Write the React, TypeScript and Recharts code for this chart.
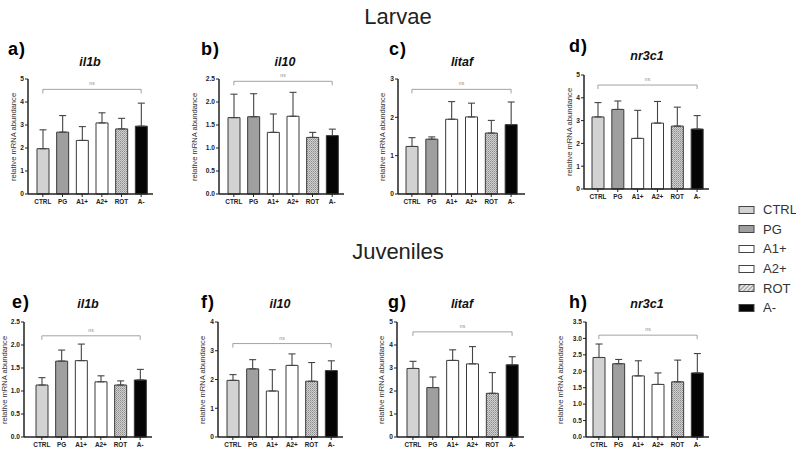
import { BarChart, Bar, XAxis, YAxis, ErrorBar, Cell, ReferenceLine } from "recharts";

const groups = ["CTRL", "PG", "A1+", "A2+", "ROT", "A-"];

// larvae
const larvaeIl1b = [1.97, 2.69, 2.33, 3.09, 2.83, 2.95];
const larvaeIl1bErr = [0.82, 0.72, 0.6, 0.44, 0.46, 1.0];
const larvaeIl10 = [1.66, 1.68, 1.34, 1.69, 1.23, 1.27];
const larvaeIl10Err = [0.51, 0.5, 0.4, 0.52, 0.11, 0.14];
const larvaeLitaf = [1.24, 1.43, 1.95, 2.01, 1.59, 1.81];
const larvaeLitafErr = [0.23, 0.06, 0.46, 0.36, 0.33, 0.59];
const larvaeNr3c1 = [3.16, 3.49, 2.22, 2.89, 2.76, 2.63];
const larvaeNr3c1Err = [0.63, 0.37, 1.23, 0.95, 0.83, 0.59];

// juveniles
const juvIl1b = [1.13, 1.65, 1.66, 1.2, 1.13, 1.24];
const juvIl1bErr = [0.16, 0.24, 0.36, 0.13, 0.09, 0.23];
const juvIl10 = [1.97, 2.37, 1.6, 2.49, 1.94, 2.31];
const juvIl10Err = [0.2, 0.32, 0.74, 0.4, 0.65, 0.34];
const juvLitaf = [2.98, 2.15, 3.33, 3.18, 1.9, 3.14];
const juvLitafErr = [0.31, 0.46, 0.46, 0.75, 0.9, 0.35];
const juvNr3c1 = [2.42, 2.23, 1.86, 1.6, 1.68, 1.95];
const juvNr3c1Err = [0.41, 0.13, 0.46, 0.35, 0.66, 0.59];

// y ticks
const ticks0to5 = [0, 1, 2, 3, 4, 5];
const ticks0to3 = [0, 1, 2, 3];
const ticks0to4 = [0, 1, 2, 3, 4];
const ticks0to25 = [0, 0.5, 1, 1.5, 2, 2.5];
const ticks0to35 = [0, 0.5, 1, 1.5, 2, 2.5, 3, 3.5];

// height of the "ns" bracket per panel
const nsLevels = [4.55, 2.45, 2.73, 4.56, 2.2, 3.25, 4.57, 3.1];

const fills = ["#d2d2d2", "#9f9f9f", "#ffffff", "#ffffff", "url(#rotHatch)", "#050505"];

const panels = [
  { tag: "a)", gene: "il1b", values: larvaeIl1b, err: larvaeIl1bErr, ticks: ticks0to5, dec: false, axisX: 28, right: 153, top: 79, bottom: 194, padL: 5, padR: 2, tagX: 8, tagY: 39, geneX: 90, geneY: 55, labX: 14 },
  { tag: "b)", gene: "il10", values: larvaeIl10, err: larvaeIl10Err, ticks: ticks0to25, dec: true, axisX: 219, right: 344, top: 79, bottom: 194, padL: 5, padR: 2, tagX: 201, tagY: 39, geneX: 285, geneY: 55, labX: 195 },
  { tag: "c)", gene: "litaf", values: larvaeLitaf, err: larvaeLitafErr, ticks: ticks0to3, dec: false, axisX: 398, right: 525, top: 79, bottom: 194, padL: 4, padR: 4, tagX: 389, tagY: 39, geneX: 462, geneY: 55, labX: 383 },
  { tag: "d)", gene: "nr3c1", values: larvaeNr3c1, err: larvaeNr3c1Err, ticks: ticks0to5, dec: false, axisX: 584, right: 709, top: 75, bottom: 189, padL: 4, padR: 2, tagX: 569, tagY: 36, geneX: 647, geneY: 49, labX: 570 },
  { tag: "e)", gene: "il1b", values: juvIl1b, err: juvIl1bErr, ticks: ticks0to25, dec: true, axisX: 24, right: 152, top: 322, bottom: 437, padL: 8, padR: 2, tagX: 12, tagY: 292, geneX: 88, geneY: 297, labX: 5 },
  { tag: "f)", gene: "il10", values: juvIl10, err: juvIl10Err, ticks: ticks0to4, dec: false, axisX: 218, right: 343, top: 322, bottom: 437, padL: 5, padR: 2, tagX: 201, tagY: 292, geneX: 280, geneY: 297, labX: 203 },
  { tag: "g)", gene: "litaf", values: juvLitaf, err: juvLitafErr, ticks: ticks0to5, dec: false, axisX: 397, right: 524, top: 322, bottom: 437, padL: 6, padR: 2, tagX: 388, tagY: 292, geneX: 462, geneY: 297, labX: 382 },
  { tag: "h)", gene: "nr3c1", values: juvNr3c1, err: juvNr3c1Err, ticks: ticks0to35, dec: true, axisX: 586, right: 709, top: 322, bottom: 437, padL: 3, padR: 2, tagX: 569, tagY: 292, geneX: 647, geneY: 297, labX: 561 },
];

const AX = "#222";

function GenePanel({ p, ns }: { p: any; ns: number }) {
  const data = groups.map((g, i) => ({ group: g, value: p.values[i], err: [0, p.err[i]] }));
  const yw = 24;
  const mt = 8;
  const mr = 3;
  const xh = 18;
  const w = yw + (p.right - p.axisX) + mr;
  const h = mt + (p.bottom - p.top) + xh;
  const max = p.ticks[p.ticks.length - 1];
  const drop = max * 0.035;
  const first = groups[0];
  const last = groups[groups.length - 1];
  const bracket = { stroke: "#8a8a8a", strokeWidth: 0.8 };
  return (
    <>
      <div style={{ position: "absolute", left: p.tagX, top: p.tagY, fontSize: 18, fontWeight: 700, letterSpacing: 1, color: "#000" }}>{p.tag}</div>
      <div style={{ position: "absolute", left: p.geneX, top: p.geneY, transform: "translateX(-50%)", fontSize: 12.5, fontWeight: 700, fontStyle: "italic", color: "#111" }}>{p.gene}</div>
      <div
        style={{
          position: "absolute",
          left: p.labX,
          top: (p.top + p.bottom) / 2,
          transform: "translate(-50%, -50%) rotate(-90deg)",
          fontSize: 7.6,
          lineHeight: 1,
          color: "#333",
          whiteSpace: "nowrap",
        }}
      >
        relative mRNA abundance
      </div>
      <div style={{ position: "absolute", left: p.axisX - yw, top: p.top - mt }}>
        <BarChart width={w} height={h} data={data} margin={{ top: mt, right: mr, bottom: 0, left: 0 }} barSize={12}>
          <XAxis
            dataKey="group"
            height={xh}
            interval={0}
            padding={{ left: p.padL, right: p.padR }}
            tickSize={3}
            tickLine={{ stroke: AX }}
            axisLine={{ stroke: AX, strokeWidth: 1.5 }}
            tick={{ fontSize: 6.4, fontWeight: 700, fill: AX }}
          />
          <YAxis
            width={yw}
            domain={[0, max]}
            ticks={p.ticks}
            interval={0}
            tickSize={3}
            tickMargin={1}
            tickLine={{ stroke: AX }}
            axisLine={{ stroke: AX, strokeWidth: 1.5 }}
            tick={{ fontSize: 6.6, fontWeight: 700, fill: AX }}
            tickFormatter={(v: number) => (p.dec ? v.toFixed(1) : String(v))}
          />
          <ReferenceLine segment={[{ x: first, y: ns }, { x: last, y: ns }]} {...bracket} label={{ value: "ns", position: "top", fontSize: 5, fill: "#888", offset: 4 }} />
          <ReferenceLine segment={[{ x: first, y: ns }, { x: first, y: ns - drop }]} {...bracket} />
          <ReferenceLine segment={[{ x: last, y: ns }, { x: last, y: ns - drop }]} {...bracket} />
          <Bar dataKey="value" stroke="#3a3a3a" strokeWidth={1} isAnimationActive={false}>
            {data.map((d, i) => (
              <Cell key={d.group} fill={fills[i]} />
            ))}
            <ErrorBar dataKey="err" width={3.5} stroke="#444" strokeWidth={1.1} />
          </Bar>
        </BarChart>
      </div>
    </>
  );
}

function Legend() {
  return (
    <div style={{ position: "absolute", left: 738, top: 200 }}>
      {groups.map((g, i) => (
        <div key={g} style={{ display: "flex", alignItems: "center", height: 19.6 }}>
          <svg width={18} height={10}>
            <rect x={1} y={1.5} width={15} height={7} fill={i === 4 ? "url(#rotLegend)" : fills[i]} stroke="#444" strokeWidth={1} />
          </svg>
          <span style={{ marginLeft: 7, fontSize: 13, color: "#333" }}>{g}</span>
        </div>
      ))}
    </div>
  );
}

export default function App() {
  return (
    <div
      style={{
        position: "absolute",
        left: 0,
        top: 0,
        width: 796,
        height: 455,
        background: "#fff",
        fontFamily: "'Liberation Sans', Arial, sans-serif",
        overflow: "hidden",
      }}
    >
      <svg width={0} height={0} style={{ position: "absolute" }}>
        <defs>
          <pattern id="rotHatch" patternUnits="userSpaceOnUse" width={2} height={2}>
            <rect width={2} height={2} fill="#d0d0d0" />
            <rect width={1} height={1} fill="#8c8c8c" />
            <rect x={1} y={1} width={1} height={1} fill="#a8a8a8" />
          </pattern>
          <pattern id="rotLegend" patternUnits="userSpaceOnUse" width={3} height={3} patternTransform="rotate(45)">
            <rect width={3} height={3} fill="#e4e4e4" />
            <line x1={0} y1={0} x2={0} y2={3} stroke="#666" strokeWidth={1.3} />
          </pattern>
        </defs>
      </svg>
      <div style={{ position: "absolute", left: 0, width: 796, top: 4, textAlign: "center", fontSize: 22, color: "#222" }}>Larvae</div>
      <div style={{ position: "absolute", left: 0, width: 796, top: 239, textAlign: "center", fontSize: 22, color: "#222" }}>Juveniles</div>
      {panels.map((p, i) => (
        <GenePanel key={p.tag} p={p} ns={nsLevels[i]} />
      ))}
      <Legend />
    </div>
  );
}
